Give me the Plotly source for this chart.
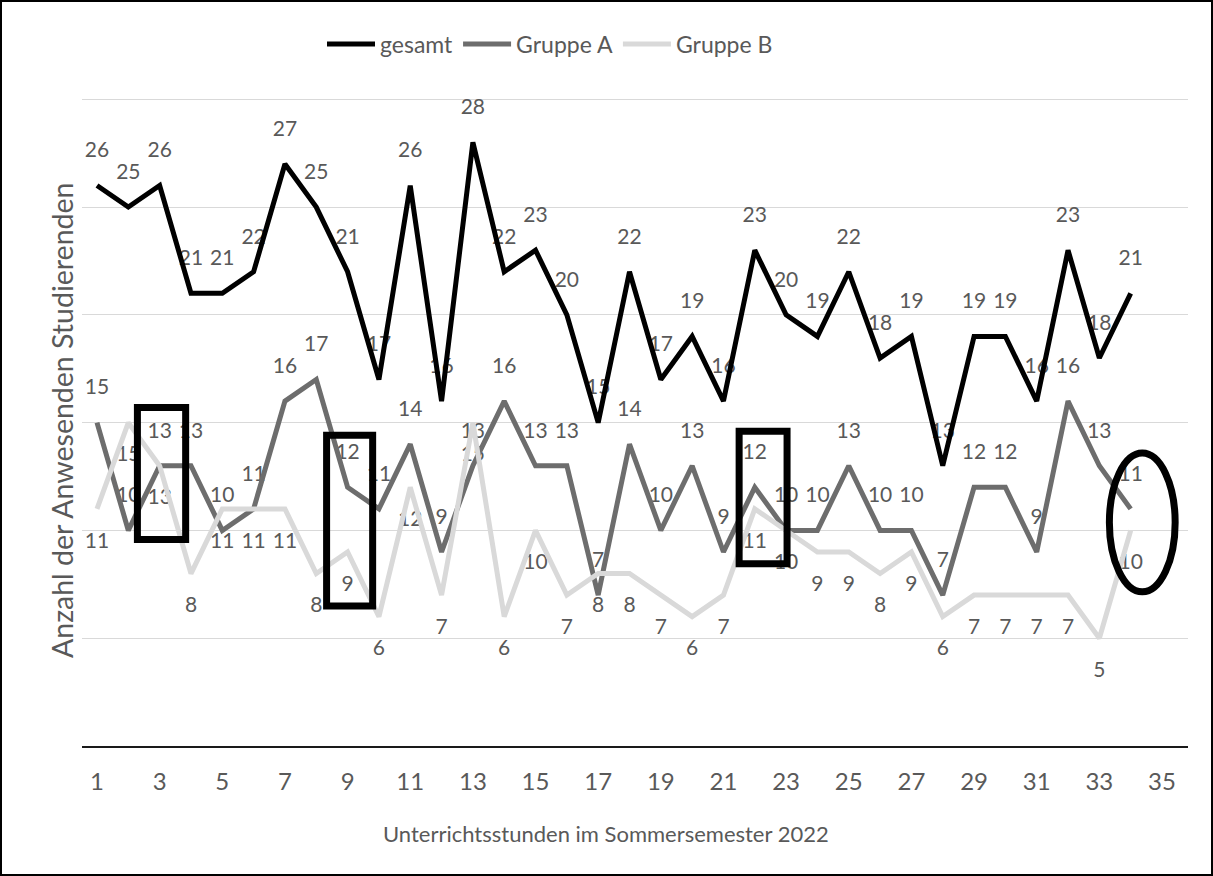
import plotly.graph_objects as go

# ---- data ----
stunden = list(range(1, 35))
gesamt = [26, 25, 26, 21, 21, 22, 27, 25, 22, 17, 26, 16, 28, 22, 23, 20, 15, 22, 17, 19,
          16, 23, 20, 19, 22, 18, 19, 13, 19, 19, 16, 23, 18, 21]
gesamt_labels = ["26", "25", "26", "21", "21", "22", "27", "25", "21", "17", "26", "16", "28", "22",
                 "23", "20", "15", "22", "17", "19", "16", "23", "20", "19", "22", "18", "19", "13",
                 "19", "19", "16", "23", "18", "21"]
gruppe_a = [15, 10, 13, 13, 10, 11, 16, 17, 12, 11, 14, 9, 13, 16, 13, 13, 7, 14, 10, 13,
            9, 12, 10, 10, 13, 10, 10, 7, 12, 12, 9, 16, 13, 11]
gruppe_b = [11, 15, 13, 8, 11, 11, 11, 8, 9, 6, 12, 7, 15, 6, 10, 7, 8, 8, 7, 6,
            7, 11, 10, 9, 9, 8, 9, 6, 7, 7, 7, 7, 5, 10]
x_ticks = list(range(1, 36, 2))

# ---- style ----
FONT = "Lato"
LABEL_COLOR = "#595959"
LABEL_OFF = 1.55  # data units between point and label centre
LABEL_SIZE = 21
W, H = 1213, 876
ML, MR, MT, MB = 82, 25, 95, 130
PW, PH = W - ML - MR, H - MT - MB

fig = go.Figure()

# labels first, so lines and shapes are drawn above them
fig.add_trace(go.Scatter(x=stunden, y=[v + LABEL_OFF for v in gesamt], mode="text",
                         text=gesamt_labels, textposition="middle center",
                         textfont=dict(family=FONT, size=LABEL_SIZE, color=LABEL_COLOR),
                         showlegend=False, hoverinfo="skip"))
fig.add_trace(go.Scatter(x=stunden, y=[v + LABEL_OFF for v in gruppe_a], mode="text",
                         text=[str(v) for v in gruppe_a], textposition="middle center",
                         textfont=dict(family=FONT, size=LABEL_SIZE, color=LABEL_COLOR),
                         showlegend=False, hoverinfo="skip"))
fig.add_trace(go.Scatter(x=stunden, y=[v - LABEL_OFF for v in gruppe_b], mode="text",
                         text=[str(v) for v in gruppe_b], textposition="middle center",
                         textfont=dict(family=FONT, size=LABEL_SIZE, color=LABEL_COLOR),
                         showlegend=False, hoverinfo="skip"))

fig.add_trace(go.Scatter(x=stunden, y=gesamt, mode="lines", name="gesamt",
                         line=dict(color="#000000", width=5)))
fig.add_trace(go.Scatter(x=stunden, y=gruppe_a, mode="lines", name="Gruppe A",
                         line=dict(color="#6d6d6d", width=5)))
fig.add_trace(go.Scatter(x=stunden, y=gruppe_b, mode="lines", name="Gruppe B",
                         line=dict(color="#d9d9d9", width=5)))

# highlight boxes and ellipse
shapes = [
    dict(type="rect", xref="x", yref="y", x0=2.29, x1=3.83, y0=9.58, y1=15.7,
         line=dict(color="black", width=7), layer="above"),
    dict(type="rect", xref="x", yref="y", x0=8.33, x1=9.80, y0=6.5, y1=14.42,
         line=dict(color="black", width=7), layer="above"),
    dict(type="rect", xref="x", yref="y", x0=21.5, x1=23.03, y0=8.45, y1=14.6,
         line=dict(color="black", width=7), layer="above"),
    dict(type="circle", xref="x", yref="y", x0=33.32, x1=35.42, y0=7.15, y1=13.59,
         line=dict(color="black", width=7), layer="above"),
    # outer frame
    dict(type="rect", xref="paper", yref="paper",
         x0=(1 - ML) / PW, x1=(W - 1 - ML) / PW,
         y0=(MT + PH - (H - 1)) / PH, y1=(MT + PH - 1) / PH,
         line=dict(color="black", width=2), layer="above"),
]

fig.update_layout(
    width=W, height=H,
    margin=dict(l=ML, r=MR, t=MT, b=MB),
    paper_bgcolor="white", plot_bgcolor="white",
    font=dict(family=FONT, color=LABEL_COLOR),
    shapes=shapes,
    showlegend=True,
    legend=dict(orientation="h", x=(550 - ML) / PW, xanchor="center", y=(MT + PH - 44) / PH,
                yanchor="middle", font=dict(family=FONT, size=23, color=LABEL_COLOR),
                itemwidth=48, bgcolor="rgba(0,0,0,0)"),
    xaxis=dict(range=[0.521, 35.83], tickmode="array", tickvals=x_ticks,
               ticktext=[str(t) for t in x_ticks], showgrid=False, zeroline=False,
               showline=True, linecolor="#1a1a1a", linewidth=2, ticks="",
               ticklabelstandoff=13,
               tickfont=dict(family=FONT, size=24, color=LABEL_COLOR)),
    yaxis=dict(range=[0, 30.2], dtick=5, showgrid=True, gridcolor="#d9d9d9", gridwidth=1,
               zeroline=False, showticklabels=False, showline=False, ticks=""),
    annotations=[
        dict(text="Unterrichtsstunden im Sommersemester 2022", xref="paper", yref="paper",
             x=(606 - ML) / PW, y=(MT + PH - 833) / PH, showarrow=False,
             xanchor="center", yanchor="middle",
             font=dict(family=FONT, size=22, color=LABEL_COLOR)),
        dict(text="Anzahl der Anwesenden Studierenden", xref="paper", yref="paper",
             x=(62 - ML) / PW, y=(MT + PH - 421) / PH, showarrow=False, textangle=-90,
             xanchor="center", yanchor="middle",
             font=dict(family=FONT, size=28.5, color=LABEL_COLOR)),
    ],
)

fig.write_html("out.html", config={"displayModeBar": False},
               post_script="document.body.style.margin='0';document.body.style.overflow='hidden';")
